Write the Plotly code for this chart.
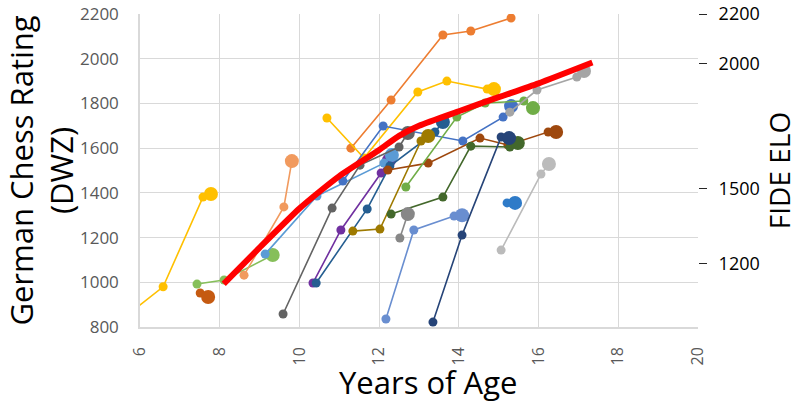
import plotly.graph_objects as go

# ---- data (age in years, German DWZ rating) ----
series_names = [
    "yellow_early", "green_early", "darkorange_early", "lightorange",
    "orange_top", "yellow_mid", "purple", "lightblue", "blue", "darkgray",
    "steelblue", "olive", "brown", "lightgreen", "darkgreen", "gray_pair",
    "cornflower", "navy", "blue_pair", "lightgray", "gray_top",
]
series_ages = [
    [5.75, 6.58, 7.58, 7.78],
    [7.43, 8.11, 9.33],
    [7.51, 7.71],
    [8.61, 9.61, 9.81],
    [11.29, 12.30, 13.60, 14.30, 15.31],
    [10.69, 11.62, 12.97, 13.70, 14.71, 14.88],
    [10.34, 11.04, 12.05, 12.25],
    [9.14, 10.44, 12.12, 12.32],
    [11.09, 12.10, 14.10, 15.11, 15.31],
    [9.59, 10.82, 11.52, 12.50, 12.72],
    [10.42, 11.70, 12.27, 13.40, 13.60],
    [11.34, 12.02, 13.05, 13.23],
    [12.22, 13.23, 14.53, 15.23, 16.24, 16.44],
    [12.67, 13.95, 14.66, 15.63, 15.86],
    [12.30, 13.60, 14.30, 15.28, 15.48],
    [12.52, 12.72],
    [12.17, 12.87, 13.88, 14.08],
    [13.35, 14.08, 15.06, 15.26],
    [15.21, 15.41],
    [15.06, 16.06, 16.26],
    [15.28, 15.96, 16.96, 17.14],
]
series_dwz = [
    [863, 980, 1381, 1395],
    [992, 1010, 1122],
    [952, 934],
    [1032, 1337, 1542],
    [1600, 1815, 2106, 2124, 2182],
    [1735, 1556, 1851, 1900, 1864, 1864],
    [997, 1234, 1489, 1546],
    [1126, 1386, 1533, 1569],
    [1453, 1699, 1632, 1739, 1788],
    [858, 1332, 1524, 1605, 1668],
    [997, 1328, 1520, 1672, 1717],
    [1229, 1238, 1632, 1654],
    [1502, 1533, 1645, 1614, 1672, 1672],
    [1426, 1739, 1802, 1811, 1779],
    [1305, 1381, 1609, 1605, 1623],
    [1198, 1305],
    [836, 1234, 1296, 1300],
    [822, 1211, 1650, 1645],
    [1355, 1355],
    [1144, 1484, 1529],
    [1761, 1860, 1918, 1945],
]
trend_ages = [8.1, 9, 10, 10.5, 11, 12, 12.5, 13, 14, 15, 16, 17.35]
trend_dwz = [993, 1155, 1330, 1405, 1475, 1592, 1655, 1700, 1765, 1828, 1890, 1983]

x_ticks = [6, 8, 10, 12, 14, 16, 18, 20]
dwz_ticks = [800, 1000, 1200, 1400, 1600, 1800, 2000, 2200]
elo_ticks = [1200, 1500, 2000, 2200]

# ---- styles ----
series_colors = [
    "#FFC000", "#86BF5A", "#C55A11", "#F19A5E",
    "#ED7D31", "#FFC000", "#7030A0", "#5B9BD5", "#4472C4", "#636363",
    "#255E91", "#9E7A00", "#9E480E", "#70AD47", "#43682B", "#878787",
    "#698ED0", "#264478", "#2F7BC8", "#BBBBBB", "#A5A5A5",
]
big_last = [True] * len(series_names)
big_last[4] = False
SMALL, BIG = 9, 14

fig = go.Figure()
for name, xs, ys, col, big in zip(series_names, series_ages, series_dwz, series_colors, big_last):
    sizes = [SMALL] * len(xs)
    if big:
        sizes[-1] = BIG
    fig.add_trace(go.Scatter(
        x=xs, y=ys, name=name, mode="lines+markers",
        line=dict(color=col, width=1.6),
        marker=dict(color=col, size=sizes, opacity=1, line=dict(width=0)),
        showlegend=False,
    ))

fig.add_trace(go.Scatter(
    x=trend_ages, y=trend_dwz, mode="lines", name="trend",
    line=dict(color="#FF0000", width=6, shape="spline", smoothing=0.6),
    showlegend=False,
))
# invisible trace to activate right axis
fig.add_trace(go.Scatter(x=[None], y=[None], yaxis="y2", showlegend=False))

FONT = "Open Sans"
fig.update_layout(
    width=800, height=405,
    margin=dict(l=140, r=102, t=14, b=78),
    plot_bgcolor="white", paper_bgcolor="white",
    font=dict(family=FONT),
    showlegend=False,
    xaxis=dict(
        range=[6, 20], tickvals=x_ticks, ticktext=[str(v) for v in x_ticks],
        showgrid=True, gridcolor="#D9D9D9", gridwidth=1.3,
        showline=True, linecolor="#D9D9D9", linewidth=1.5,
        zeroline=False, tickangle=-90, ticks="", automargin=False,
        tickfont=dict(size=16, color="#595959", family=FONT),
        ticklabelstandoff=12,
    ),
    yaxis=dict(
        range=[800, 2200], tickvals=dwz_ticks,
        showgrid=True, gridcolor="#D9D9D9", gridwidth=1.3,
        showline=True, linecolor="#D9D9D9", linewidth=1.5,
        zeroline=False, ticks="", automargin=False,
        tickfont=dict(size=17, color="#595959", family=FONT),
        ticklabelstandoff=16,
        title=dict(text="German Chess Rating<br>(DWZ)", font=dict(size=31, color="#000000", family=FONT), standoff=8),
    ),
    yaxis2=dict(
        overlaying="y", side="right", range=[944, 2200], tickvals=elo_ticks,
        showgrid=False, zeroline=False, showline=False, automargin=False,
        ticks="outside", ticklen=8, tickwidth=1.3, tickcolor="#262626",
        tickfont=dict(size=18, color="#000000", family=FONT),
        ticklabelstandoff=8,
        title=dict(text="FIDE ELO", font=dict(size=28, color="#000000", family=FONT), standoff=10),
    ),
    annotations=[dict(
        text="Years of Age", xref="paper", yref="paper", x=0.5, y=0,
        xanchor="center", yanchor="middle", xshift=9, yshift=-55, showarrow=False,
        borderpad=0, font=dict(size=31, color="#000000", family=FONT),
    )],
)

fig.write_html("out.html")
